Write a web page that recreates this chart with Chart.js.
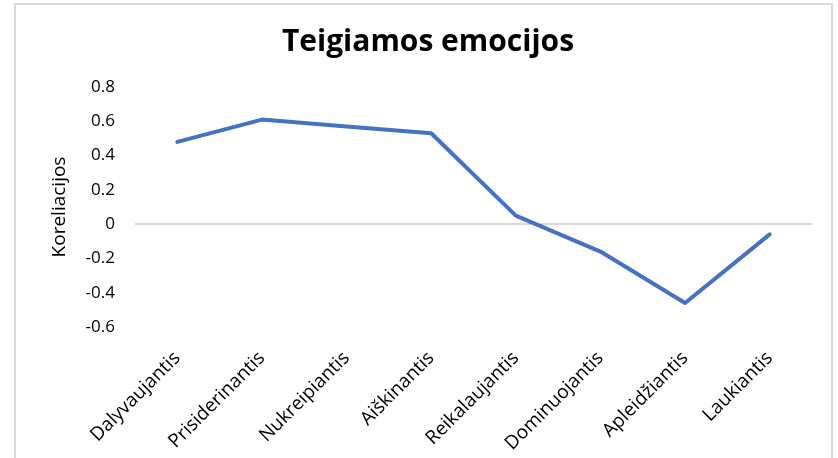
<!DOCTYPE html>
<html>
<head>
<meta charset="utf-8">
<script src="https://cdn.jsdelivr.net/npm/chart.js@4.4.1/dist/chart.umd.min.js"></script>
<style>
html,body{margin:0;padding:0;background:#fff;}
#wrap{position:relative;width:838px;height:458px;overflow:hidden;}
#frame{position:absolute;left:14px;top:3px;width:819px;height:470px;border:2px solid #d9d9d9;box-sizing:border-box;}
canvas{position:absolute;left:0;top:0;}
</style>
</head>
<body>
<div id="wrap">
<div id="frame"></div>
<canvas id="c" width="838" height="458"></canvas>
</div>
<script>
const categories = ["Dalyvaujantis","Prisiderinantis","Nukreipiantis","Aiškinantis","Reikalaujantis","Dominuojantis","Apleidžiantis","Laukiantis"];
const values = [0.48, 0.61, 0.57, 0.53, 0.05, -0.16, -0.46, -0.06];
const yMin = -0.6, yMax = 0.8, yStep = 0.2;
const FONT = "'Open Sans', sans-serif";

new Chart(document.getElementById('c'), {
  type: 'line',
  data: {
    labels: categories,
    datasets: [{
      data: values,
      borderColor: '#4472C4',
      borderWidth: 4,
      pointRadius: 0,
      tension: 0,
      fill: false,
      borderCapStyle: 'round',
      borderJoinStyle: 'round'
    }]
  },
  options: {
    responsive: false,
    animation: false,
    layout: { padding: { left: 18, right: 0, top: 0, bottom: 0 } },
    plugins: {
      legend: { display: false },
      tooltip: { enabled: false },
      title: {
        display: true,
        text: 'Teigiamos emocijos',
        color: '#000',
        font: { family: FONT, size: 30, weight: 'bold' },
        padding: { top: 24, bottom: 27 }
      }
    },
    scales: {
      x: {
        offset: true,
        border: { display: false },
        grid: { display: false, drawTicks: false },
        ticks: {
          color: '#000',
          font: { family: FONT, size: 19 },
          minRotation: 45, maxRotation: 45,
          padding: 20,
          autoSkip: false
        },
        afterFit: s => { s.height = 131; }
      },
      y: {
        min: yMin, max: yMax,
        border: { display: false },
        grid: {
          drawTicks: false,
          color: c => (c.tick && Math.abs(c.tick.value) < 1e-9) ? '#d9d9d9' : 'rgba(0,0,0,0)',
          lineWidth: 2
        },
        ticks: {
          stepSize: yStep,
          color: '#000',
          font: { family: FONT, size: 17 },
          padding: 20,
          callback: v => { const r = Math.round(v*10)/10; return r === 0 ? '0' : String(r); }
        },
        title: {
          display: true,
          text: 'Koreliacijos',
          color: '#000',
          font: { family: FONT, size: 19 },
          padding: { top: 30, bottom: 0 }
        },
        afterFit: s => { s.width = 117; }
      },
      yRight: {
        position: 'right',
        display: true,
        border: { display: false },
        grid: { display: false, drawTicks: false },
        ticks: { display: false },
        afterFit: s => { s.width = 26; }
      }
    }
  }
});
</script>
</body>
</html>
